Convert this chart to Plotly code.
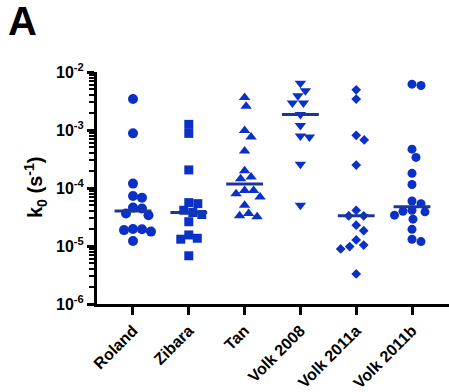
import numpy as np
import plotly.graph_objects as go

# Rate constants k0 (s^-1) reported by each study
categories = ["Roland", "Zibara", "Tan", "Volk 2008", "Volk 2011a", "Volk 2011b"]

roland = [3.42e-3, 8.75e-4, 1.19e-4, 7.28e-5, 6.81e-5, 4.59e-5, 4.42e-5,
          3.63e-5, 3.40e-5, 1.96e-5, 1.94e-5, 1.88e-5, 1.77e-5, 1.22e-5]
zibara = [1.25e-3, 8.75e-4, 2.05e-4, 5.59e-5, 5.37e-5, 4.13e-5, 3.78e-5,
          3.49e-5, 2.62e-5, 1.55e-5, 1.36e-5, 1.31e-5, 6.78e-6]
tan = [3.64e-3, 2.56e-3, 9.84e-4, 7.56e-4, 4.36e-4, 1.99e-4, 1.54e-4, 1.44e-4,
       9.06e-5, 9.06e-5, 7.96e-5, 7.00e-5, 5.03e-5, 3.63e-5, 3.32e-5, 3.19e-5]
volk2008 = [6.41e-3, 4.74e-3, 3.89e-3, 2.92e-3, 2.92e-3, 1.85e-3, 1.20e-3,
            7.86e-4, 7.56e-4, 2.56e-4, 5.03e-5]
volk2011a = [4.93e-3, 3.42e-3, 8.09e-4, 6.73e-4, 2.49e-4, 4.13e-5, 3.32e-5,
             3.32e-5, 2.29e-5, 1.84e-5, 1.27e-5, 1.04e-5, 9.80e-6, 8.92e-6, 3.30e-6]
volk2011b = [6.17e-3, 5.84e-3, 4.67e-4, 3.37e-4, 1.79e-4, 1.15e-4, 5.97e-5,
             5.37e-5, 4.13e-5, 3.97e-5, 3.88e-5, 3.40e-5, 2.90e-5, 1.94e-5,
             1.31e-5, 1.19e-5]

series = [roland, zibara, tan, volk2008, volk2011a, volk2011b]
symbols = ["circle", "square", "triangle-up", "triangle-down", "diamond", "circle"]
sizes = [10, 9, 10, 10, 7.5, 9]

ytick_vals = [1e-6, 1e-5, 1e-4, 1e-3, 1e-2]
ytick_text = ["10<sup>-6</sup>", "10<sup>-5</sup>", "10<sup>-4</sup>",
              "10<sup>-3</sup>", "10<sup>-2</sup>"]

BLUE = "#0b30c8"
LINE_BLUE = "#1b3699"

W, H = 449, 392
ML, MR, MT, MB = 97, 0, 72, 86
X_RANGE = [-0.645, 5.663]
Y_RANGE = [-6, -2]
px_per_cat = (W - ML - MR) / (X_RANGE[1] - X_RANGE[0])
px_per_dec = (H - MT - MB) / (Y_RANGE[1] - Y_RANGE[0])


def swarm_offsets(values, diameter=9.0, step=0.5):
    """Simple beeswarm: spread points sideways so markers do not pile up."""
    ys = np.log10(np.asarray(values)) * px_per_dec
    order = np.argsort(-ys)
    placed = []
    offsets = np.zeros(len(values))
    cands = [0.0]
    k = 1
    while k * step < 60:
        cands += [k * step, -k * step]
        k += 1
    for i in order:
        for c in cands:
            ok = True
            for (px, py) in placed:
                if (c - px) ** 2 + (ys[i] - py) ** 2 < diameter ** 2:
                    ok = False
                    break
            if ok:
                offsets[i] = c
                placed.append((c, ys[i]))
                break
    return offsets / px_per_cat


fig = go.Figure()
for i, (name, vals) in enumerate(zip(categories, series)):
    offs = swarm_offsets(vals)
    fig.add_trace(go.Scatter(
        x=i + offs, y=vals, mode="markers", name=name,
        marker=dict(symbol=symbols[i], size=sizes[i], color=BLUE,
                    line=dict(width=0)),
        showlegend=False, hoverinfo="y",
    ))
    med = float(np.median(vals))
    fig.add_trace(go.Scatter(
        x=[i - 0.33, i + 0.33], y=[med, med], mode="lines",
        line=dict(color=LINE_BLUE, width=3), showlegend=False,
        hoverinfo="skip",
    ))

minor_vals = [k * 10.0 ** e for e in range(-6, -2) for k in range(2, 10)]

fig.update_layout(
    width=W, height=H,
    margin=dict(l=ML, r=MR, t=MT, b=MB, pad=0),
    paper_bgcolor="white", plot_bgcolor="white",
    font=dict(family="Liberation Sans, Arial, sans-serif", color="black"),
    xaxis=dict(
        range=X_RANGE, showgrid=False, zeroline=False,
        showline=True, linecolor="black", linewidth=3,
        tickmode="array", tickvals=list(range(len(categories))),
        ticktext=categories, tickangle=-45,
        ticks="outside", ticklen=8, tickwidth=3, tickcolor="black",
        tickfont=dict(size=16, weight="bold", color="black"),
    ),
    yaxis=dict(
        type="log", range=Y_RANGE, showgrid=False, zeroline=False,
        showline=True, linecolor="black", linewidth=3,
        tickmode="array", tickvals=ytick_vals, ticktext=ytick_text,
        ticks="outside", ticklen=7, tickwidth=3, tickcolor="black",
        tickfont=dict(size=16, weight="bold", color="black"),
        minor=dict(tickmode="array", tickvals=minor_vals, ticks="outside",
                   ticklen=5, tickwidth=2, tickcolor="black", showgrid=False),
    ),
    annotations=[
        dict(text="k<sub>0</sub> (s<sup>-1</sup>)", textangle=-90,
             xref="paper", yref="paper",
             x=(35 - ML) / (W - ML - MR), y=0.5,
             xanchor="center", yanchor="middle", showarrow=False,
             font=dict(size=20, weight="bold", color="black")),
        dict(text="A", xref="paper", yref="paper",
             x=(6 - ML) / (W - ML - MR), y=(H - MB + 4) / (H - MT - MB),
             xanchor="left", yanchor="top", showarrow=False,
             font=dict(size=40, weight="bold", color="black")),
    ],
)

fig.write_html("out.html")
